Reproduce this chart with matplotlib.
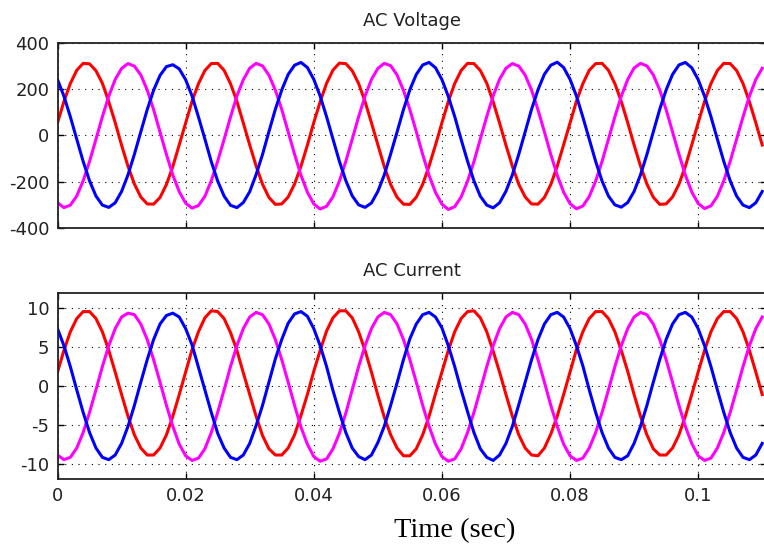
import numpy as np
import matplotlib
matplotlib.use('Agg')
import matplotlib.pyplot as plt

# 三相电压/电流波形，采样间隔 1 ms
dt = 0.001
n_samples = 111

# AC Voltage (V)
red_v = [
    55, 147, 225, 282, 312, 310, 280, 226, 146, 56, -42, -133, -210, -266, -296, -297, -268, -212, -134, -40,
    54, 148, 224, 281, 311, 312, 282, 224, 148, 54, -41, -132, -211, -268, -298, -296, -266, -210, -133, -42,
    56, 146, 226, 283, 313, 311, 280, 225, 147, 55, -40, -134, -212, -267, -297, -298, -267, -211, -132, -41,
    55, 147, 225, 281, 312, 311, 281, 226, 146, 54, -42, -133, -211, -266, -296, -297, -268, -212, -133, -40,
    54, 148, 224, 282, 311, 312, 282, 224, 147, 56, -41, -132, -210, -267, -298, -296, -266, -211, -134, -41,
    55, 147, 225, 281, 312, 311, 281, 225, 146, 55, -41]
blue_v = [
    242, 170, 81, -16, -112, -196, -262, -301, -311, -291, -242, -170, -81, 16, 112, 196, 260, 298, 306, 288,
    241, 171, 80, -15, -113, -197, -262, -302, -312, -290, -243, -169, -82, 17, 113, 197, 264, 304, 316, 294,
    243, 170, 81, -16, -112, -195, -261, -300, -311, -292, -242, -171, -80, 15, 112, 198, 264, 305, 316, 293,
    242, 169, 82, -17, -111, -196, -263, -301, -313, -291, -241, -170, -81, 16, 114, 198, 265, 304, 317, 294,
    243, 171, 80, -16, -112, -197, -262, -300, -310, -290, -242, -170, -82, 16, 113, 197, 264, 305, 316, 293,
    242, 170, 81, -16, -112, -196, -262, -301, -312, -291, -242]
magenta_v = [
    -291, -312, -301, -262, -196, -112, -16, 81, 170, 242, 290, 311, 300, 262, 197, 112, 15, -82, -171, -243,
    -293, -314, -303, -263, -196, -111, -17, 80, 171, 241, 291, 312, 301, 261, 196, 113, 16, -81, -172, -245,
    -296, -318, -306, -265, -197, -112, -16, 81, 170, 242, 290, 312, 302, 262, 195, 112, 17, -82, -173, -246,
    -297, -320, -308, -266, -198, -113, -15, 82, 171, 243, 291, 311, 300, 261, 196, 111, 16, -82, -172, -245,
    -295, -317, -305, -264, -197, -112, -16, 81, 170, 242, 292, 312, 301, 262, 197, 112, 16, -81, -171, -244,
    -294, -316, -304, -263, -196, -112, -16, 80, 170, 242, 291]

# AC Current (A)
red_i = [
    1.8, 4.6, 7.0, 8.7, 9.6, 9.6, 8.7, 7.0, 4.6, 1.8, -1.1, -3.9, -6.3, -8.0, -8.9, -8.9, -8.0, -6.3, -3.9, -1.1,
    1.8, 4.7, 7.0, 8.8, 9.7, 9.6, 8.7, 6.9, 4.6, 1.7, -1.1, -3.9, -6.4, -8.1, -8.9, -8.9, -8.0, -6.3, -3.8, -1.1,
    1.9, 4.6, 7.1, 8.8, 9.7, 9.7, 8.8, 7.0, 4.6, 1.8, -1.2, -4.0, -6.3, -8.0, -9.0, -9.0, -8.1, -6.3, -3.9, -1.0,
    1.8, 4.6, 7.0, 8.7, 9.6, 9.7, 8.8, 7.0, 4.5, 1.8, -1.1, -3.9, -6.3, -8.0, -8.9, -9.0, -8.0, -6.2, -3.9, -1.1,
    1.8, 4.7, 7.0, 8.7, 9.6, 9.6, 8.7, 7.0, 4.6, 1.9, -1.1, -3.9, -6.3, -8.1, -8.9, -8.9, -8.0, -6.3, -3.9, -1.1,
    1.8, 4.6, 7.0, 8.7, 9.6, 9.6, 8.7, 7.0, 4.6, 1.8, -1.1]
blue_i = [
    7.4, 5.2, 2.5, -0.5, -3.4, -6.0, -8.0, -9.2, -9.5, -8.9, -7.4, -5.2, -2.5, 0.5, 3.4, 6.0, 8.0, 9.1, 9.4, 8.9,
    7.4, 5.3, 2.4, -0.5, -3.4, -6.1, -8.0, -9.2, -9.5, -8.9, -7.4, -5.1, -2.5, 0.5, 3.5, 6.0, 8.1, 9.3, 9.6, 9.0,
    7.4, 5.2, 2.5, -0.6, -3.4, -6.0, -8.0, -9.1, -9.5, -8.9, -7.3, -5.2, -2.5, 0.4, 3.4, 6.1, 8.0, 9.2, 9.5, 8.9,
    7.5, 5.2, 2.5, -0.5, -3.3, -6.0, -8.1, -9.2, -9.6, -8.9, -7.4, -5.2, -2.4, 0.5, 3.4, 6.0, 8.0, 9.2, 9.5, 8.9,
    7.4, 5.2, 2.6, -0.5, -3.4, -6.0, -8.0, -9.2, -9.5, -9.0, -7.4, -5.2, -2.5, 0.5, 3.4, 6.0, 8.0, 9.2, 9.5, 8.9,
    7.4, 5.2, 2.5, -0.5, -3.4, -6.0, -8.0, -9.2, -9.5, -8.9, -7.4]
magenta_i = [
    -8.9, -9.5, -9.2, -8.0, -6.0, -3.4, -0.5, 2.5, 5.2, 7.4, 8.9, 9.4, 9.2, 8.0, 6.0, 3.4, 0.5, -2.5, -5.2, -7.5,
    -9.0, -9.6, -9.3, -8.1, -6.0, -3.4, -0.5, 2.5, 5.2, 7.4, 8.9, 9.5, 9.2, 8.0, 6.0, 3.4, 0.5, -2.5, -5.3, -7.5,
    -9.1, -9.7, -9.4, -8.1, -6.1, -3.5, -0.5, 2.5, 5.2, 7.4, 8.9, 9.5, 9.2, 8.0, 6.0, 3.4, 0.5, -2.5, -5.2, -7.5,
    -9.1, -9.7, -9.4, -8.1, -6.0, -3.4, -0.5, 2.5, 5.2, 7.4, 8.9, 9.5, 9.2, 8.0, 6.0, 3.4, 0.5, -2.5, -5.2, -7.5,
    -9.0, -9.6, -9.3, -8.0, -6.0, -3.4, -0.5, 2.5, 5.2, 7.4, 8.9, 9.5, 9.2, 8.0, 6.0, 3.4, 0.5, -2.5, -5.2, -7.4,
    -9.0, -9.6, -9.3, -8.0, -6.0, -3.4, -0.5, 2.5, 5.2, 7.4, 8.9]

v_ticks = [-400, -200, 0, 200, 400]
i_ticks = [-10, -5, 0, 5, 10]
t_ticks = [0, 0.02, 0.04, 0.06, 0.08, 0.1]
t_labels = ['0', '0.02', '0.04', '0.06', '0.08', '0.1']

t = np.arange(n_samples) * dt

plt.rcParams['axes.unicode_minus'] = False
plt.rcParams['font.family'] = 'DejaVu Sans'

fig = plt.figure(figsize=(7.64, 5.5), dpi=100)
# 右边框在图片之外（原图被裁掉）
ax1 = fig.add_axes([0.0753, 0.5855, 0.9274, 0.3363])
ax2 = fig.add_axes([0.0753, 0.1290, 0.9274, 0.3383])

def style(ax, yticks, title):
    ax.set_xlim(0, 0.1106)
    ax.set_xticks(t_ticks)
    ax.set_yticks(yticks)
    ax.grid(True, color='k', linestyle=(0, (1, 5)), linewidth=0.8)
    ax.tick_params(direction='in', length=4, width=1, top=True, right=True,
                   labelsize=13, pad=6, colors='k', labelcolor='#222222')
    for s in ax.spines.values():
        s.set_linewidth(1.3)
        s.set_color('#222222')
    ax.set_title(title, fontsize=13, pad=12, color='#222222')

ax1.plot(t, red_v, color='#ff0000', lw=2.2)
ax1.plot(t, magenta_v, color='#ff00ff', lw=2.2)
ax1.plot(t, blue_v, color='#0000ff', lw=2.2)
ax1.set_ylim(-400, 400)
style(ax1, v_ticks, 'AC Voltage')
ax1.set_xticklabels([])

ax2.plot(t, red_i, color='#ff0000', lw=2.2)
ax2.plot(t, magenta_i, color='#ff00ff', lw=2.2)
ax2.plot(t, blue_i, color='#0000ff', lw=2.2)
ax2.set_ylim(-12, 12)
style(ax2, i_ticks, 'AC Current')
ax2.set_xticklabels(t_labels)

fig.text(455 / 764, 1 - 537 / 550, 'Time (sec)', ha='center', va='baseline',
         family='Liberation Serif', fontsize=20.5, color='k')

fig.savefig('out.png', dpi=100)
